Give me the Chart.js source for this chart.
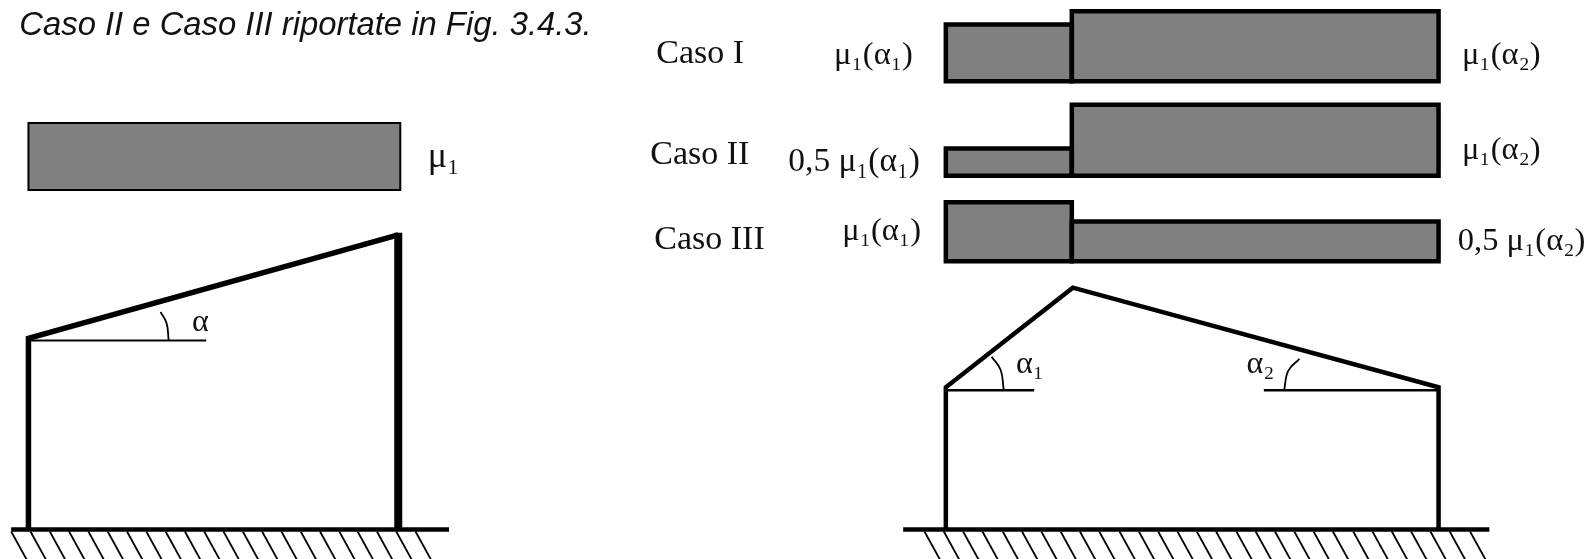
<!DOCTYPE html>
<html>
<head>
<meta charset="utf-8">
<style>
  html, body { margin: 0; padding: 0; background: #fff; overflow: hidden; }
  canvas { display: block; filter: blur(0.5px); }
</style>
<script src="https://cdn.jsdelivr.net/npm/chart.js@4/dist/chart.umd.min.js"></script>
</head>
<body>
<canvas id="myChart" width="1594" height="559"></canvas>
<script>
// load blocks, [x, y]
const singleLoad = [[28,121],[394,121],[394,187],[28,187],[28,121]];
const casoILeft = [[931,24],[1055,24],[1055,80],[931,80],[931,24]];
const casoIRight = [[1055,11],[1416,11],[1416,80],[1055,80],[1055,11]];
const casoIILeft = [[931,146],[1055,146],[1055,173],[931,173],[931,146]];
const casoIIRight = [[1055,103],[1416,103],[1416,173],[1055,173],[1055,103]];
const casoIIILeft = [[931,199],[1055,199],[1055,257],[931,257],[931,199]];
const casoIIIRight = [[1055,218],[1416,218],[1416,257],[1055,257],[1055,218]];

// frames
const monoFrame = [[28,521],[28,333],[392,231]];
const monoTallColumn = [[392,229],[392,521]];
const duoFrame = [[931,521],[931,381],[1056,283],[1416,381],[1416,521]];
const groundLeft = [[11,521],[442,521]];
const groundRight = [[889,521],[1466,521]];
const monoRef = [[28,335],[203,335]];
const duoRefLeft = [[931,384],[1018,384]];
const duoRefRight = [[1244,384],[1416,384]];
const monoArc = [[158,307],[164,318],[166,335]];
const duoArc1 = [[976,351],[985,364],[988,384]];
const duoArc2 = [[1279,353],[1268,365],[1264,384]];

// hatch marks under the ground, x at the top end
const hatchLeft = [11,30,49,68,87,106,125,144,163,182,201,220,239,258,277,296,315,334,352,371,390,409];
const hatchRight = [910,929,948,967,987,1006,1025,1044,1063,1082,1102,1121,1140,1159,1178,1197,1217,1236,1255,1274,1293,1312,1332,1351,1370,1389,1408,1427,1447];
const hatchTop = 523;
const hatchBottom = 552;
const hatchRun = 16;

const serif = '"Liberation Serif", serif';
const labels = [
  ['Caso II e Caso III riportate in Fig. 3.4.3.', 19, 34, 'italic 32.8px "Liberation Sans", sans-serif'],
  ['Caso I', 646, 62, '34px ' + serif],
  ['Caso II', 640, 161, '34px ' + serif],
  ['Caso III', 644, 245, '34px ' + serif],
  ['μ₁(α₁)', 821, 63, '32.5px ' + serif],
  ['0,5 μ₁(α₁)', 776, 168, '33.5px ' + serif],
  ['μ₁(α₁)', 829, 236, '32.5px ' + serif],
  ['μ₁(α₂)', 1439, 63, '32.5px ' + serif],
  ['μ₁(α₂)', 1439, 156, '32.5px ' + serif],
  ['0,5 μ₁(α₂)', 1435, 246, '32.5px ' + serif],
  ['μ₁', 421, 164, '36px ' + serif],
  ['α', 189, 326, '32px ' + serif],
  ['α₁', 1000, 367, '32px ' + serif],
  ['α₂', 1227, 367, '32px ' + serif]
];

const toPoints = pts => pts.map(p => ({ x: p[0], y: p[1] }));

function stroke(pts, width, tension, cap) {
  return {
    data: toPoints(pts),
    borderColor: '#000',
    borderWidth: width,
    borderCapStyle: cap || 'butt',
    tension: tension || 0,
    fill: false
  };
}
// top edge filled down to the block's bottom value
function blockFill(pts) {
  return {
    data: toPoints(pts.slice(0, 2)),
    borderWidth: 0,
    backgroundColor: '#808080',
    fill: { value: pts[2][1] }
  };
}
const hatch = x => stroke([[x, hatchTop], [x + hatchRun, hatchBottom]], 1.8);

const blocks = [casoILeft, casoIRight, casoIILeft, casoIIRight, casoIIILeft, casoIIIRight];

// first dataset is painted last, so outlines go before the fills
const datasets = [
  stroke(monoFrame, 5.5), stroke(monoTallColumn, 8), stroke(duoFrame, 4.5),
  stroke(groundLeft, 4.5), stroke(groundRight, 4.5),
  stroke(monoRef, 2), stroke(duoRefLeft, 2.5), stroke(duoRefRight, 2.5),
  stroke(monoArc, 1.8, 0.4), stroke(duoArc1, 1.8, 0.4), stroke(duoArc2, 1.8, 0.4),
  stroke(singleLoad, 2, 0, 'square')
].concat(
  blocks.map(b => stroke(b, 4.5, 0, 'square')),
  hatchLeft.map(hatch),
  hatchRight.map(hatch),
  blocks.map(blockFill),
  [blockFill(singleLoad)]
);

const labelPlugin = {
  id: 'labelPlugin',
  afterDraw(chart) {
    const { ctx, scales } = chart;
    ctx.save();
    ctx.fillStyle = '#111';
    ctx.textBaseline = 'alphabetic';
    labels.forEach(l => {
      ctx.font = l[3];
      ctx.fillText(l[0], scales.x.getPixelForValue(l[1]), scales.y.getPixelForValue(l[2]));
    });
    ctx.restore();
  }
};

new Chart(document.getElementById('myChart'), {
  type: 'line',
  data: { datasets },
  plugins: [labelPlugin],
  options: {
    responsive: false,
    animation: false,
    layout: { padding: 0 },
    elements: { point: { radius: 0 }, line: { borderCapStyle: 'butt', borderJoinStyle: 'miter' } },
    plugins: { legend: { display: false }, tooltip: { enabled: false } },
    scales: {
      x: { type: 'linear', min: 0, max: 1569, display: false },
      y: { type: 'linear', min: 0, max: 550, reverse: true, display: false }
    }
  }
});
</script>
</body>
</html>
